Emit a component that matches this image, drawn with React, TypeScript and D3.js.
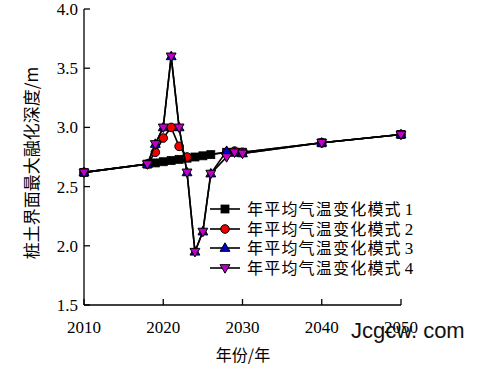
import React, { useEffect, useRef } from "react";
import * as d3 from "d3";

// chart data
const yearsBase = [2010, 2018, 2019, 2020, 2021, 2022, 2023, 2024, 2025, 2026, 2028, 2029, 2030, 2040, 2050];
const mode1 = [2.62, 2.69, 2.70, 2.71, 2.72, 2.73, 2.74, 2.75, 2.76, 2.77, 2.79, 2.79, 2.79, 2.87, 2.94];
const years2 = [2010, 2018, 2019, 2020, 2021, 2022, 2023, 2028, 2029, 2030, 2040, 2050];
const mode2 = [2.62, 2.69, 2.79, 2.91, 3.0, 2.84, 2.75, 2.79, 2.80, 2.79, 2.87, 2.94];
const mode3 = [2.62, 2.69, 2.86, 3.0, 3.6, 3.0, 2.62, 1.95, 2.12, 2.61, 2.80, 2.79, 2.78, 2.87, 2.94];
const mode4 = [2.62, 2.69, 2.86, 3.0, 3.6, 3.0, 2.62, 1.95, 2.12, 2.61, 2.75, 2.79, 2.78, 2.87, 2.94];

const xTicks = [2010, 2020, 2030, 2040, 2050];
const yTicks = [1.5, 2.0, 2.5, 3.0, 3.5, 4.0];
const legendNames = ["年平均气温变化模式 1", "年平均气温变化模式 2", "年平均气温变化模式 3", "年平均气温变化模式 4"];

const SERIF = "'Liberation Serif', 'Times New Roman', serif";
const CJK = "'Noto Sans CJK SC', sans-serif";

export default function App() {
  const ref = useRef<SVGSVGElement | null>(null);

  useEffect(() => {
    const svg = d3.select(ref.current);
    svg.selectAll("*").remove();

    const x = d3.scaleLinear().domain([2010, 2050]).range([84, 401]);
    const y = d3.scaleLinear().domain([1.5, 4.0]).range([305, 9]);

    // axes
    const ax = svg.append("g").attr("stroke", "#000").attr("stroke-width", 1.3).attr("fill", "none");
    ax.append("line").attr("x1", x(2010)).attr("x2", x(2010)).attr("y1", y(4.0)).attr("y2", y(1.5));
    ax.append("line").attr("x1", x(2010)).attr("x2", x(2050)).attr("y1", y(1.5)).attr("y2", y(1.5));
    yTicks.forEach((t) => {
      ax.append("line").attr("x1", x(2010)).attr("x2", x(2010) + 6).attr("y1", y(t)).attr("y2", y(t));
    });
    xTicks.forEach((t) => {
      ax.append("line").attr("x1", x(t)).attr("x2", x(t)).attr("y1", y(1.5)).attr("y2", y(1.5) - 6);
    });

    svg
      .append("g")
      .selectAll("text")
      .data(yTicks)
      .enter()
      .append("text")
      .attr("x", x(2010) - 6)
      .attr("y", (d) => y(d) + 6)
      .attr("text-anchor", "end")
      .attr("font-family", SERIF)
      .attr("font-size", 17)
      .text((d) => d.toFixed(1));

    svg
      .append("g")
      .selectAll("text")
      .data(xTicks)
      .enter()
      .append("text")
      .attr("x", (d) => x(d))
      .attr("y", 333)
      .attr("text-anchor", "middle")
      .attr("font-family", SERIF)
      .attr("font-size", 17)
      .text((d) => d);

    svg
      .append("text")
      .attr("x", 243)
      .attr("y", 361)
      .attr("text-anchor", "middle")
      .attr("font-family", CJK)
      .attr("font-size", 16)
      .text("年份/年");

    svg
      .append("text")
      .attr("transform", "translate(38,163) rotate(-90)")
      .attr("text-anchor", "middle")
      .attr("font-family", CJK)
      .attr("font-size", 17)
      .text("桩土界面最大融化深度/m");

    const line = d3
      .line<[number, number]>()
      .x((d) => x(d[0]))
      .y((d) => y(d[1]));

    const series = [
      { years: yearsBase, vals: mode1, fill: "#000000", shape: "square" },
      { years: years2, vals: mode2, fill: "#ee0000", shape: "circle" },
      { years: yearsBase, vals: mode3, fill: "#0000cc", shape: "up" },
      { years: yearsBase, vals: mode4, fill: "#c000c8", shape: "down" },
    ];

    const drawMarker = (g: any, shape: string, cx: number, cy: number, fill: string) => {
      if (shape === "square") {
        g.append("rect").attr("x", cx - 4).attr("y", cy - 4).attr("width", 8).attr("height", 8)
          .attr("fill", fill).attr("stroke", "#000").attr("stroke-width", 0.8);
      } else if (shape === "circle") {
        g.append("circle").attr("cx", cx).attr("cy", cy).attr("r", 4.3)
          .attr("fill", fill).attr("stroke", "#000").attr("stroke-width", 1);
      } else {
        const sym = d3.symbol().type(d3.symbolTriangle).size(42);
        g.append("path")
          .attr("d", sym())
          .attr("transform", `translate(${cx},${cy + (shape === "up" ? 0.5 : -0.5)}) rotate(${shape === "up" ? 0 : 180})`)
          .attr("fill", fill).attr("stroke", "#000").attr("stroke-width", 1);
      }
    };

    series.forEach((s) => {
      const pts: [number, number][] = s.years.map((yr, i) => [yr, s.vals[i]]);
      const g = svg.append("g");
      g.append("path").attr("d", line(pts)).attr("fill", "none").attr("stroke", "#000").attr("stroke-width", 1.6);
      pts.forEach((p) => drawMarker(g, s.shape, x(p[0]), y(p[1]), s.fill));
    });

    // legend
    const legendY = [209, 229, 248, 268];
    series.forEach((s, i) => {
      const g = svg.append("g");
      g.append("line").attr("x1", 210).attr("x2", 240).attr("y1", legendY[i]).attr("y2", legendY[i])
        .attr("stroke", "#000").attr("stroke-width", 1.6);
      drawMarker(g, s.shape, 225, legendY[i], s.fill);
      const t = g.append("text").attr("x", 247).attr("y", legendY[i] + 6).attr("font-size", 16);
      const parts = legendNames[i].split(" ");
      t.append("tspan").attr("font-family", CJK).attr("letter-spacing", 1.2).text(parts[0]);
      t.append("tspan").attr("font-family", SERIF).attr("dx", 3).attr("font-size", 17).text(parts[1]);
    });

    // watermark
    svg
      .append("text")
      .attr("x", 351)
      .attr("y", 338)
      .attr("font-family", "'Liberation Sans', Arial, sans-serif")
      .attr("font-size", 22)
      .attr("fill", "#111")
      .text("Jcgcw. com");
  }, []);

  return (
    <svg
      ref={ref}
      width={477}
      height={369}
      style={{ position: "absolute", left: 0, top: 0, background: "#fff" }}
    />
  );
}
